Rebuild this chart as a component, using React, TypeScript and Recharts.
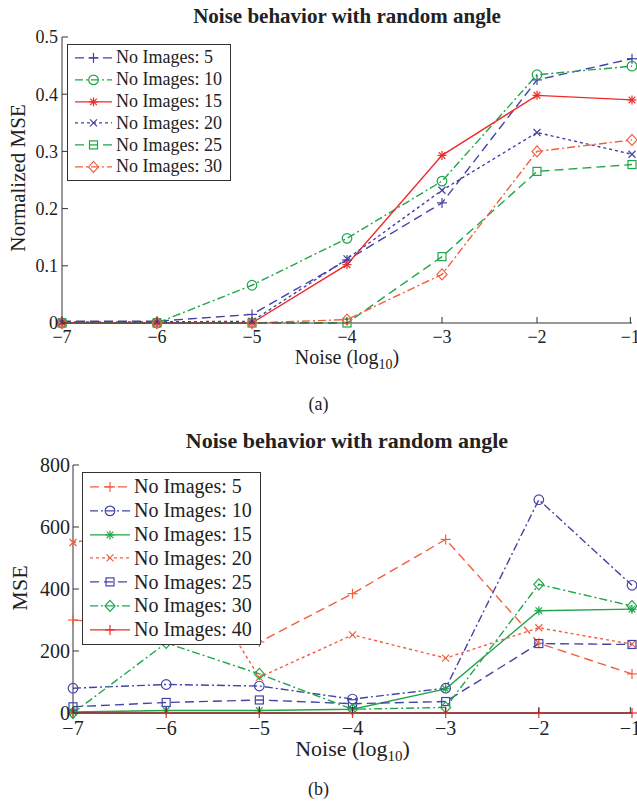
import React from 'react';
import { LineChart, Line, XAxis, YAxis, Legend } from 'recharts';

// noise level (log10) on the x axis, shared by both panels
const noise = [-7, -6, -5, -4, -3, -2, -1];
const xTicks = [-7, -6, -5, -4, -3, -2, -1];

// panel (a): normalized MSE
const topTicks = [0, 0.1, 0.2, 0.3, 0.4, 0.5];
const topImg5 = [0.003, 0.003, 0.015, 0.11, 0.21, 0.425, 0.462];
const topImg10 = [0, 0, 0.066, 0.148, 0.248, 0.434, 0.449];
const topImg15 = [0, 0, 0, 0.102, 0.293, 0.398, 0.39];
const topImg20 = [0.002, 0.002, 0.003, 0.112, 0.232, 0.333, 0.295];
const topImg25 = [0, 0, 0, 0, 0.116, 0.265, 0.277];
const topImg30 = [0, 0, 0, 0.006, 0.085, 0.3, 0.32];

// panel (b): MSE
const bottomTicks = [0, 200, 400, 600, 800];
const botImg5 = [300, 280, 229, 385, 560, 225, 126];
const botImg10 = [80, 92, 87, 45, 80, 688, 412];
const botImg15 = [3, 8, 8, 12, 78, 330, 335];
const botImg20 = [550, 600, 115, 252, 177, 275, 222];
const botImg25 = [20, 34, 42, 30, 37, 224, 221];
const botImg30 = [0, 226, 126, 12, 18, 415, 345];
const botImg40 = [0, 0, 0, 0, 0, 0, 0];

const BLUE = '#4343a6';
const GREEN = '#20a64a';
const RED = '#ee2a2a';
const ORANGE = '#f25f3f';
const AXIS = '#333';
const FONT = '"Liberation Serif", "Times New Roman", serif';

const DASHED = '9 5';
const DASHDOT = '8 3 2 3';
const DOTTED = '3 3';

type Kind = 'plus' | 'circle' | 'star' | 'x' | 'square' | 'diamond';
type Series = { key: string; label: string; color: string; dash?: string; kind: Kind };

const topSeries: Series[] = [
  { key: 's5', label: 'No Images: 5', color: BLUE, dash: DASHED, kind: 'plus' },
  { key: 's10', label: 'No Images: 10', color: GREEN, dash: DASHDOT, kind: 'circle' },
  { key: 's15', label: 'No Images: 15', color: RED, kind: 'star' },
  { key: 's20', label: 'No Images: 20', color: BLUE, dash: DOTTED, kind: 'x' },
  { key: 's25', label: 'No Images: 25', color: GREEN, dash: DASHED, kind: 'square' },
  { key: 's30', label: 'No Images: 30', color: ORANGE, dash: DASHDOT, kind: 'diamond' },
];

const bottomSeries: Series[] = [
  { key: 's5', label: 'No Images: 5', color: ORANGE, dash: DASHED, kind: 'plus' },
  { key: 's10', label: 'No Images: 10', color: BLUE, dash: DASHDOT, kind: 'circle' },
  { key: 's15', label: 'No Images: 15', color: GREEN, kind: 'star' },
  { key: 's20', label: 'No Images: 20', color: ORANGE, dash: DOTTED, kind: 'x' },
  { key: 's25', label: 'No Images: 25', color: BLUE, dash: DASHED, kind: 'square' },
  { key: 's30', label: 'No Images: 30', color: GREEN, dash: DASHDOT, kind: 'diamond' },
  { key: 's40', label: 'No Images: 40', color: RED, kind: 'plus' },
];

const topData = noise.map((n, i) => ({
  noise: n,
  s5: topImg5[i],
  s10: topImg10[i],
  s15: topImg15[i],
  s20: topImg20[i],
  s25: topImg25[i],
  s30: topImg30[i],
}));

const bottomData = noise.map((n, i) => ({
  noise: n,
  s5: botImg5[i],
  s10: botImg10[i],
  s15: botImg15[i],
  s20: botImg20[i],
  s25: botImg25[i],
  s30: botImg30[i],
  s40: botImg40[i],
}));

const Marker = ({ cx, cy, kind, color }: { cx: number; cy: number; kind: Kind; color: string }) => {
  const p = { stroke: color, strokeWidth: 1.2, fill: 'none' };
  switch (kind) {
    case 'plus':
      return (
        <g {...p}>
          <line x1={cx - 5} x2={cx + 5} y1={cy} y2={cy} />
          <line x1={cx} x2={cx} y1={cy - 5} y2={cy + 5} />
        </g>
      );
    case 'circle':
      return <circle cx={cx} cy={cy} r={4.8} {...p} />;
    case 'star':
      return (
        <g {...p}>
          <line x1={cx - 4.5} x2={cx + 4.5} y1={cy} y2={cy} />
          <line x1={cx} x2={cx} y1={cy - 4.5} y2={cy + 4.5} />
          <line x1={cx - 3.3} x2={cx + 3.3} y1={cy - 3.3} y2={cy + 3.3} />
          <line x1={cx - 3.3} x2={cx + 3.3} y1={cy + 3.3} y2={cy - 3.3} />
        </g>
      );
    case 'x':
      return (
        <g {...p}>
          <line x1={cx - 3.5} x2={cx + 3.5} y1={cy - 3.5} y2={cy + 3.5} />
          <line x1={cx - 3.5} x2={cx + 3.5} y1={cy + 3.5} y2={cy - 3.5} />
        </g>
      );
    case 'square':
      return <rect x={cx - 4} y={cy - 4} width={8} height={8} {...p} />;
    default:
      return (
        <polygon
          points={`${cx},${cy - 5.5} ${cx + 5},${cy} ${cx},${cy + 5.5} ${cx - 5},${cy}`}
          {...p}
        />
      );
  }
};

const fmtX = (v: number) => (v < 0 ? '\u2212' + Math.abs(v) : String(v));

const BottomTick = (props: any) => {
  const { x, y, payload, fs, margin } = props;
  return (
    <g>
      <line x1={x} x2={x} y1={y - margin} y2={y - margin - 6} stroke={AXIS} />
      <text x={x} y={y} dy="0.36em" textAnchor="middle" fontSize={fs} fontFamily={FONT} fill="#222">
        {fmtX(payload.value)}
      </text>
    </g>
  );
};

const LeftTick = (props: any) => {
  const { x, y, payload, fs, margin } = props;
  return (
    <g>
      <line x1={x + margin} x2={x + margin + 6} y1={y} y2={y} stroke={AXIS} />
      <text x={x} y={y} dy="0.36em" textAnchor="end" fontSize={fs} fontFamily={FONT} fill="#222">
        {String(payload.value)}
      </text>
    </g>
  );
};

const TopTick = (props: any) => {
  const { x, y } = props;
  return <line x1={x} x2={x} y1={y} y2={y + 6} stroke={AXIS} />;
};

const RightTick = (props: any) => {
  const { x, y } = props;
  return <line x1={x} x2={x - 6} y1={y} y2={y} stroke={AXIS} />;
};

const LegendBox = ({ series, fs, rowH, sampleW }: { series: Series[]; fs: number; rowH: number; sampleW: number }) => (
  <div
    style={{
      border: `1px solid ${AXIS}`,
      background: '#fff',
      padding: '2px 8px 2px 7px',
      fontFamily: FONT,
      fontSize: fs,
      color: '#222',
    }}
  >
    {series.map((s) => (
      <div key={s.key} style={{ display: 'flex', alignItems: 'center', height: rowH, whiteSpace: 'nowrap' }}>
        <svg width={sampleW} height={rowH} style={{ marginRight: 4 }}>
          <line
            x1={0}
            x2={sampleW}
            y1={rowH / 2}
            y2={rowH / 2}
            stroke={s.color}
            strokeWidth={1.4}
            strokeDasharray={s.dash}
          />
          <Marker cx={sampleW / 2} cy={rowH / 2} kind={s.kind} color={s.color} />
        </svg>
        <span>{s.label}</span>
      </div>
    ))}
  </div>
);

const renderLines = (series: Series[]) =>
  series.map((s) => (
    <Line
      key={s.key}
      dataKey={s.key}
      stroke={s.color}
      strokeWidth={1.4}
      strokeDasharray={s.dash}
      isAnimationActive={false}
      dot={(d: any) => <Marker key={`${s.key}-${d.index}`} cx={d.cx} cy={d.cy} kind={s.kind} color={s.color} />}
      activeDot={false}
      legendType="none"
    />
  ));

const textStyle: React.CSSProperties = {
  position: 'absolute',
  fontFamily: FONT,
  color: '#222',
  whiteSpace: 'nowrap',
  textAlign: 'center',
};

const App = () => {
  return (
    <div style={{ position: 'absolute', left: 0, top: 0, width: 637, height: 803, background: '#fff' }}>
      {/* panel (a) */}
      <div style={{ position: 'absolute', left: 0, top: 0 }}>
        <LineChart width={637} height={400} data={topData} margin={{ top: 37, right: 5, bottom: 47, left: 0 }}>
          <XAxis
            dataKey="noise"
            type="number"
            domain={[-7, -1]}
            ticks={xTicks}
            height={30}
            tickSize={0}
            tickMargin={14}
            tickLine={false}
            axisLine={{ stroke: AXIS }}
            tick={<BottomTick fs={18} margin={14} />}
          />
          <XAxis
            xAxisId="top"
            orientation="top"
            dataKey="noise"
            type="number"
            domain={[-7, -1]}
            ticks={xTicks}
            height={0}
            tickSize={0}
            tickMargin={0}
            tickLine={false}
            axisLine={{ stroke: AXIS }}
            tick={<TopTick />}
          />
          <YAxis
            type="number"
            domain={[0, 0.5]}
            ticks={topTicks}
            width={62}
            tickSize={0}
            tickMargin={4}
            tickLine={false}
            axisLine={{ stroke: AXIS }}
            tick={<LeftTick fs={18} margin={4} />}
          />
          <YAxis
            yAxisId="right"
            orientation="right"
            type="number"
            domain={[0, 0.5]}
            ticks={topTicks}
            width={0}
            tickSize={0}
            tickMargin={0}
            tickLine={false}
            axisLine={{ stroke: AXIS }}
            tick={<RightTick />}
          />
          <Legend
            layout="vertical"
            align="center"
            verticalAlign="middle"
            wrapperStyle={{ left: 67, top: 44, width: 'auto' }}
            content={() => <LegendBox series={topSeries} fs={18} rowH={21.8} sampleW={37} />}
          />
          {renderLines(topSeries)}
        </LineChart>
      </div>
      <div style={{ ...textStyle, left: 0, width: 694, top: 6, fontSize: 21, fontWeight: 'bold', lineHeight: '21px' }}>
        Noise behavior with random angle
      </div>
      <div style={{ ...textStyle, left: 0, width: 694, top: 347, fontSize: 20, lineHeight: '20px' }}>
        Noise (log<sub style={{ fontSize: 14 }}>10</sub>)
      </div>
      <div
        style={{
          ...textStyle,
          left: 18 - 100,
          top: 178 - 11,
          width: 200,
          fontSize: 21,
          lineHeight: '22px',
          transform: 'rotate(-90deg)',
        }}
      >
        Normalized MSE
      </div>
      <div style={{ ...textStyle, left: 0, width: 637, top: 395, fontSize: 18, lineHeight: '18px' }}>(a)</div>

      {/* panel (b) */}
      <div style={{ position: 'absolute', left: 0, top: 420 }}>
        <LineChart width={637} height={383} data={bottomData} margin={{ top: 45, right: 5, bottom: 60, left: 0 }}>
          <XAxis
            dataKey="noise"
            type="number"
            domain={[-7, -1]}
            ticks={xTicks}
            height={30}
            tickSize={0}
            tickMargin={15}
            tickLine={false}
            axisLine={{ stroke: AXIS }}
            tick={<BottomTick fs={20} margin={15} />}
          />
          <XAxis
            xAxisId="top"
            orientation="top"
            dataKey="noise"
            type="number"
            domain={[-7, -1]}
            ticks={xTicks}
            height={0}
            tickSize={0}
            tickMargin={0}
            tickLine={false}
            axisLine={{ stroke: AXIS }}
            tick={<TopTick />}
          />
          <YAxis
            type="number"
            domain={[0, 800]}
            ticks={bottomTicks}
            width={73}
            tickSize={0}
            tickMargin={3}
            tickLine={false}
            axisLine={{ stroke: AXIS }}
            tick={<LeftTick fs={20} margin={3} />}
          />
          <YAxis
            yAxisId="right"
            orientation="right"
            type="number"
            domain={[0, 800]}
            ticks={bottomTicks}
            width={0}
            tickSize={0}
            tickMargin={0}
            tickLine={false}
            axisLine={{ stroke: AXIS }}
            tick={<RightTick />}
          />
          <Legend
            layout="vertical"
            align="center"
            verticalAlign="middle"
            wrapperStyle={{ left: 82, top: 52, width: 'auto' }}
            content={() => <LegendBox series={bottomSeries} fs={20} rowH={23.8} sampleW={40} />}
          />
          {renderLines(bottomSeries)}
        </LineChart>
      </div>
      <div style={{ ...textStyle, left: 0, width: 694, top: 430, fontSize: 22, fontWeight: 'bold', lineHeight: '22px' }}>
        Noise behavior with random angle
      </div>
      <div style={{ ...textStyle, left: 0, width: 705, top: 738, fontSize: 22, lineHeight: '22px' }}>
        Noise (log<sub style={{ fontSize: 15 }}>10</sub>)
      </div>
      <div
        style={{
          ...textStyle,
          left: 20 - 50,
          top: 588 - 12,
          width: 100,
          fontSize: 22,
          lineHeight: '24px',
          transform: 'rotate(-90deg)',
        }}
      >
        MSE
      </div>
      <div style={{ ...textStyle, left: 0, width: 637, top: 780, fontSize: 18, lineHeight: '18px' }}>(b)</div>
    </div>
  );
};

export default App;
